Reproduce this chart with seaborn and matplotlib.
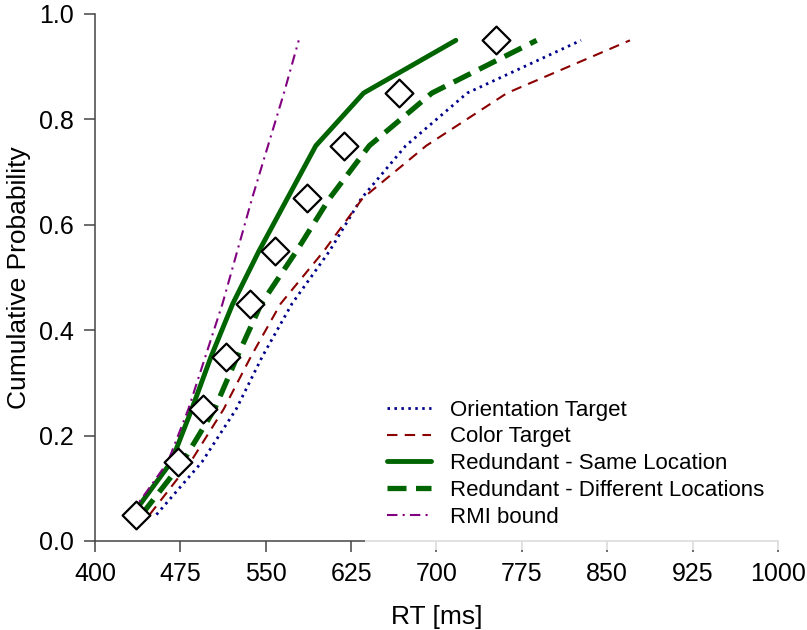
import numpy as np
import pandas as pd
import matplotlib
matplotlib.use("Agg")
import matplotlib.pyplot as plt
import seaborn as sns

# Quantile probabilities shared by all curves
PROBS = [0.05, 0.15, 0.25, 0.35, 0.45, 0.55, 0.65, 0.75, 0.85, 0.95]

# RT quantiles [ms]
RT_ORIENTATION = [454, 494, 524, 547, 573, 606, 634, 673, 727, 827]
RT_COLOR       = [448, 484, 513, 537, 563, 601, 635, 691, 762, 870]
RT_SAME_LOC    = [433, 467, 485, 502, 521, 544, 569, 594, 636, 717]
RT_DIFF_LOC    = [441, 477, 505, 525, 546, 577, 606, 641, 696, 788]
RT_RMI         = [431, 464, 482, 497, 512, 525, 538, 552, 566, 579]
RT_MODEL       = [436, 473, 495, 515, 536, 558, 586, 619, 667, 752]

X_TICKS = [400, 475, 550, 625, 700, 775, 850, 925, 1000]
Y_TICKS = [0.0, 0.2, 0.4, 0.6, 0.8, 1.0]

sns.set_style("ticks")
plt.rcParams["font.family"] = ["Liberation Sans", "DejaVu Sans"]
plt.rcParams["text.color"] = "black"
plt.rcParams["axes.labelcolor"] = "black"

fig = plt.figure(figsize=(8.07, 6.3), dpi=100)
ax = fig.add_axes([0.1177, 0.1413, 0.8463, 0.8365])

# (label, data, color, linewidth, dash pattern)
series = [
    ("Orientation Target", RT_ORIENTATION, "#00008B", 2.0, (0.9, 1.6)),
    ("Color Target", RT_COLOR, "#8B0000", 1.5, (5, 3.5)),
    ("Redundant - Same Location", RT_SAME_LOC, "#006400", 3.5, ""),
    ("Redundant - Different Locations", RT_DIFF_LOC, "#006400", 3.8, (3.6, 1.8)),
    ("RMI bound", RT_RMI, "#800080", 1.5, (5, 2.5, 1, 2.5)),
]

for label, rt, color, lw, dash in series:
    df = pd.DataFrame({"rt": rt, "p": PROBS})
    sns.lineplot(data=df, x="rt", y="p", color=color, linewidth=lw,
                 label=label, sort=False, ax=ax)
    if dash:
        ax.lines[-1].set_dashes(dash)

# Model predictions as open diamonds (not in legend)
df_model = pd.DataFrame({"rt": RT_MODEL, "p": PROBS})
sns.scatterplot(data=df_model, x="rt", y="p", marker="D", s=200,
                facecolor="white", edgecolor="black", linewidth=1.6,
                zorder=4, legend=False, ax=ax)

ax.set_xlim(400, 1000)
ax.set_ylim(0, 1.0)
ax.set_xticks(X_TICKS)
ax.set_yticks(Y_TICKS)
ax.set_yticklabels([f"{v:.1f}" for v in Y_TICKS])
ax.tick_params(axis="both", labelsize=18, length=8, width=1.1,
               color="#444444", labelcolor="black", pad=7)
for side in ["left", "bottom"]:
    ax.spines[side].set_color("#444444")
    ax.spines[side].set_linewidth(1.1)
sns.despine(ax=ax)

ax.set_xlabel("RT [ms]", fontsize=19, labelpad=14)
ax.set_ylabel("Cumulative Probability", fontsize=19, labelpad=6)

leg = ax.legend(loc="lower left", bbox_to_anchor=(0.395, -0.017),
                borderaxespad=0, borderpad=1.0, fontsize=16,
                handlelength=2.0, handletextpad=0.85, labelspacing=0.26,
                frameon=True, framealpha=0.8, edgecolor="none",
                fancybox=False)
for txt in leg.get_texts():
    txt.set_color("black")

fig.savefig("out.png", dpi=100)
